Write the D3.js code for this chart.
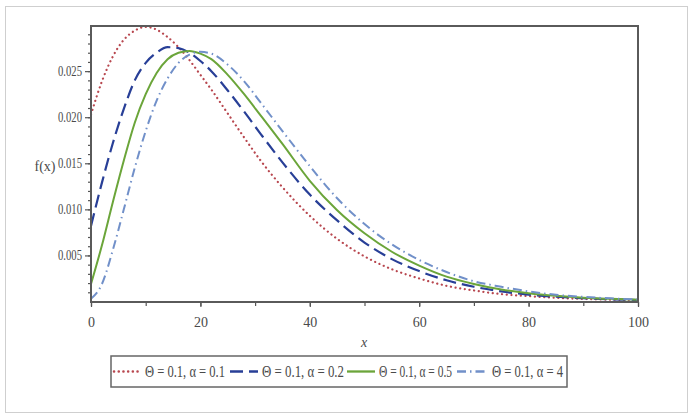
<!DOCTYPE html>
<html>
<head>
<meta charset="utf-8">
<script src="https://cdn.jsdelivr.net/npm/d3@7"></script>
<style>
  html, body { margin: 0; padding: 0; background: #fff; }
  svg { display: block; }
  text { font-family: "Liberation Serif", "DejaVu Serif", serif; fill: #4a4a4a; }
</style>
</head>
<body>
<div id="chart"></div>
<script>
// ---- data ----
const xs = [0, 2, 4, 6, 8, 10, 12, 14, 16, 18, 20, 22, 25, 28, 31, 35, 40, 45, 50, 55, 60, 65, 70, 75, 80, 85, 90, 95, 100];
const seriesA01 = [0.0203, 0.0239, 0.0266, 0.0284, 0.0294, 0.0298, 0.0295, 0.0287, 0.0276, 0.0262, 0.0246, 0.0230, 0.0204, 0.0178, 0.0153, 0.0124, 0.0093, 0.0068, 0.0049, 0.0035, 0.0025, 0.0017, 0.0012, 0.0008, 0.00058, 0.0004, 0.00028, 0.0002, 0.00014];
const seriesA02 = [0.0082, 0.0129, 0.0172, 0.0209, 0.0240, 0.0259, 0.0270, 0.0276, 0.0275, 0.0270, 0.0261, 0.0250, 0.0229, 0.0206, 0.0182, 0.0151, 0.0116, 0.0088, 0.0064, 0.0046, 0.0033, 0.0023, 0.0016, 0.0011, 0.00075, 0.00052, 0.00035, 0.00024, 0.00016];
const seriesA05 = [0.0019, 0.0061, 0.0108, 0.0153, 0.0194, 0.0225, 0.0248, 0.0263, 0.0270, 0.0272, 0.0269, 0.0263, 0.0246, 0.0225, 0.0202, 0.0171, 0.0131, 0.0099, 0.0074, 0.0054, 0.0039, 0.0027, 0.0019, 0.0013, 0.0009, 0.00062, 0.00042, 0.00029, 0.0002];
const seriesA4 = [0.0003, 0.0019, 0.0056, 0.0100, 0.0145, 0.0185, 0.0218, 0.0242, 0.0259, 0.0268, 0.0271, 0.0269, 0.0257, 0.0239, 0.0216, 0.0185, 0.0147, 0.0112, 0.0084, 0.0062, 0.0045, 0.0032, 0.0022, 0.0016, 0.0011, 0.00073, 0.0005, 0.00034, 0.00023];
const legendLabels = ["\u0398 = 0.1, \u03b1 = 0.1", "\u0398 = 0.1, \u03b1 = 0.2", "\u0398 = 0.1, \u03b1 = 0.5", "\u0398 = 0.1, \u03b1 = 4"];
const xTicks = [0, 20, 40, 60, 80, 100];
const yTicks = [0.005, 0.010, 0.015, 0.020, 0.025];
const yTickLabels = ["0.005", "0.010", "0.015", "0.020", "0.025"];

const W = 694, H = 418;
const svg = d3.select("#chart").append("svg").attr("width", W).attr("height", H);

// outer frame
svg.append("rect").attr("x", 5.5).attr("y", 6.5).attr("width", 682).attr("height", 406)
  .attr("fill", "none").attr("stroke", "#cfcfcf").attr("stroke-width", 1);

const x = d3.scaleLinear().domain([0, 100]).range([91, 638]);
const y = d3.scaleLinear().domain([0, 0.0299]).range([301.5, 26]);

const styles = [
  { data: seriesA01, color: "#b8474f", dash: "0.1 4.6", cap: "round", width: 2.2 },
  { data: seriesA02, color: "#283f97", dash: "13 6", cap: "butt", width: 2.2 },
  { data: seriesA05, color: "#6ba53a", dash: null, cap: "butt", width: 2.0 },
  { data: seriesA4, color: "#7190c9", dash: "9 4 1.5 4", cap: "butt", width: 2.0 }
];

svg.append("clipPath").attr("id", "clip").append("rect")
  .attr("x", 91).attr("y", 25).attr("width", 547).attr("height", 277);

const line = d3.line().x((d, i) => x(xs[i])).y(d => y(d)).curve(d3.curveMonotoneX);
const g = svg.append("g").attr("clip-path", "url(#clip)");
styles.forEach(s => {
  g.append("path").attr("d", line(s.data)).attr("fill", "none")
    .attr("stroke", s.color).attr("stroke-width", s.width)
    .attr("stroke-dasharray", s.dash).attr("stroke-linecap", s.cap);
});

// axes
const xAxisMinor = d3.axisBottom(x).tickValues(d3.range(0, 101, 10)).tickSize(4).tickFormat("");
svg.append("g").attr("transform", "translate(0,302)").call(xAxisMinor)
  .call(a => a.select(".domain").remove())
  .selectAll("line").attr("stroke", "#555").attr("stroke-width", 1.2);
const xAxis = d3.axisBottom(x).tickValues(xTicks).tickSize(5).tickPadding(10).tickFormat(d3.format("d"));
svg.append("g").attr("transform", "translate(0,302)").call(xAxis)
  .call(a => a.select(".domain").remove())
  .call(a => a.selectAll("line").attr("stroke", "#555").attr("stroke-width", 1.2))
  .call(a => a.selectAll("text").attr("font-size", 14).attr("fill", "#4a4a4a")
    .style("font-family", "'Liberation Serif', serif"));

const yMinor = d3.axisLeft(y).tickValues(d3.range(1, 30).map(v => v * 0.001)).tickSize(3).tickFormat("");
svg.append("g").attr("transform", "translate(91,0)").call(yMinor)
  .call(a => a.select(".domain").remove())
  .selectAll("line").attr("stroke", "#555").attr("stroke-width", 1.2);
const yAxis = d3.axisLeft(y).tickValues(yTicks).tickSize(6).tickPadding(3).tickFormat((d, i) => yTickLabels[i]);
svg.append("g").attr("transform", "translate(91,0)").call(yAxis)
  .call(a => a.select(".domain").remove())
  .call(a => a.selectAll("line").attr("stroke", "#555").attr("stroke-width", 1.2))
  .call(a => a.selectAll("text").attr("font-size", 14).attr("fill", "#4a4a4a")
    .attr("textLength", 24).attr("lengthAdjust", "spacingAndGlyphs")
    .style("font-family", "'Liberation Serif', serif"));

// plot box
svg.append("rect").attr("x", 91).attr("y", 26).attr("width", 547).attr("height", 276)
  .attr("fill", "none").attr("stroke", "#5a5a5a").attr("stroke-width", 2);

// axis titles
svg.append("text").attr("x", 45).attr("y", 171).attr("text-anchor", "middle")
  .attr("font-size", 14).text("f(x)");
svg.append("text").attr("x", 364).attr("y", 347).attr("text-anchor", "middle")
  .attr("font-size", 14).attr("font-style", "italic").text("x");

// legend
svg.append("rect").attr("x", 111).attr("y", 356).attr("width", 456).attr("height", 31)
  .attr("fill", "#fff").attr("stroke", "#666").attr("stroke-width", 1.5);
const legendPos = [
  { x1: 114, x2: 140, tx: 145, tw: 80 },
  { x1: 230, x2: 258, tx: 262, tw: 82 },
  { x1: 347, x2: 375, tx: 379, tw: 73 },
  { x1: 457, x2: 488, tx: 492, tw: 71 }
];
legendPos.forEach((p, i) => {
  const s = styles[i];
  svg.append("line").attr("x1", p.x1).attr("x2", p.x2).attr("y1", 371.5).attr("y2", 371.5)
    .attr("stroke", s.color).attr("stroke-width", s.width + 0.3)
    .attr("stroke-dasharray", s.dash).attr("stroke-linecap", s.cap);
  svg.append("text").attr("x", p.tx).attr("y", 377).attr("font-size", 16)
    .attr("textLength", p.tw).attr("lengthAdjust", "spacingAndGlyphs")
    .text(legendLabels[i]);
});
</script>
</body>
</html>
